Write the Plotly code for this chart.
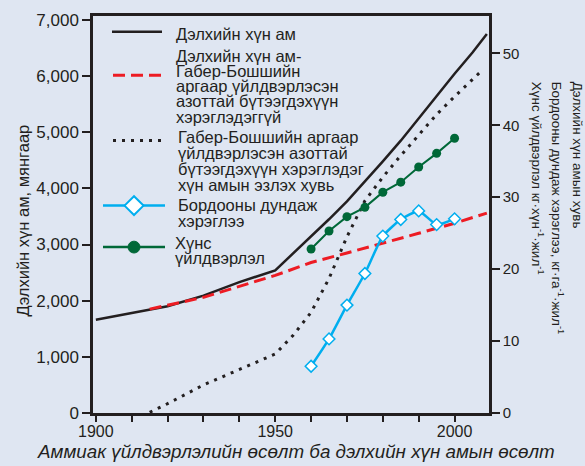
import plotly.graph_objects as go

# ---------------- data ----------------
# World population, millions
years_pop = [1900, 1910, 1920, 1930, 1940, 1950, 1955, 1960, 1965, 1970,
             1975, 1980, 1985, 1990, 1995, 2000, 2005, 2009]
pop_world = [1660, 1780, 1900, 2090, 2330, 2540, 2840, 3150, 3450, 3770,
             4120, 4480, 4850, 5250, 5640, 6040, 6420, 6750]

# World population without Haber-Bosch nitrogen, millions
years_no_hb = [1915, 1930, 1950, 1960, 1970, 1980, 1990, 2000, 2009]
pop_no_hb = [1850, 2060, 2450, 2680, 2850, 3020, 3200, 3380, 3560]

# Share of population fed by Haber-Bosch nitrogen, %
years_share = [1915, 1920, 1930, 1940, 1950, 1955, 1960, 1965, 1970, 1975,
               1980, 1985, 1990, 1995, 2000, 2005, 2008]
share_hb = [0.1, 1.3, 3.9, 6.0, 8.2, 10.8, 14.0, 18.7, 24.5, 29.5,
            32.8, 35.8, 38.7, 41.5, 44.0, 46.4, 47.8]

# Five-year series
years_5 = [1960, 1965, 1970, 1975, 1980, 1985, 1990, 1995, 2000]
fert_use = [6.5, 10.3, 15.0, 19.4, 24.6, 26.9, 28.1, 26.2, 27.0]
food_prod = [22.8, 25.3, 27.3, 28.6, 30.7, 32.1, 34.2, 36.1, 38.2]

x_ticks = [1900, 1950, 2000]
left_ticks = [0, 1000, 2000, 3000, 4000, 5000, 6000, 7000]
right_ticks = [0, 10, 20, 30, 40, 50]

# ---------------- styling ----------------
W, H = 585, 466
ML, MR, MT, MB = 93, 96, 11, 53
BG = "#dfe6f2"
INK = "#231f20"
RED = "#ed1c24"
BLUE = "#00aeef"
GREEN = "#006838"
FONT = "Liberation Sans, Arial, sans-serif"

PW, PH = W - ML - MR, H - MT - MB


def px(x):
    return (x - ML) / PW


def py(y):
    return (H - MB - y) / PH


fig = go.Figure()

fig.add_trace(go.Scatter(x=years_pop, y=pop_world, mode="lines",
                         line=dict(color=INK, width=2.5), showlegend=False))
fig.add_trace(go.Scatter(x=years_no_hb, y=pop_no_hb, mode="lines",
                         line=dict(color=RED, width=3, dash="12px,6px"),
                         showlegend=False))
fig.add_trace(go.Scatter(x=years_share, y=share_hb, mode="lines", yaxis="y2",
                         line=dict(color=INK, width=3, dash="3px,6px"),
                         showlegend=False))
fig.add_trace(go.Scatter(x=years_5, y=fert_use, mode="lines+markers", yaxis="y2",
                         line=dict(color=BLUE, width=2.5, shape="spline", smoothing=0.5),
                         marker=dict(symbol="diamond", size=9, color="white",
                                     line=dict(color=BLUE, width=1.5)),
                         showlegend=False))
fig.add_trace(go.Scatter(x=years_5, y=food_prod, mode="lines+markers", yaxis="y2",
                         line=dict(color=GREEN, width=2),
                         marker=dict(symbol="circle", size=9, color=GREEN),
                         showlegend=False))

# ---------------- legend (drawn by hand for tight line spacing) ----------------
legend_items = [
    dict(kind="solid", y=27, tx=175,
         lines=[("Дэлхийн хүн ам", 29)]),
    dict(kind="dash", y=71, tx=175,
         lines=[("Дэлхийн хүн ам-", 52), ("Габер-Бошшийн", 67),
                ("аргаар үйлдвэрлэсэн", 82), ("азоттай бүтээгдэхүүн", 97.5),
                ("хэрэглэдэггүй", 113)]),
    dict(kind="dot", y=137, tx=177,
         lines=[("Габер-Бошшийн аргаар", 133.5), ("үйлдвэрлэсэн азоттай", 149.5),
                ("бүтээгдэхүүн хэрэглэдэг", 166), ("хүн амын эзлэх хувь", 182)]),
    dict(kind="diamond", y=203, tx=177,
         lines=[("Бордооны дундаж", 202.5), ("хэрэглээ", 219)]),
    dict(kind="circle", y=245, tx=174,
         lines=[("Хүнс", 240.5), ("үйлдвэрлэл", 256.5)]),
]

shapes = []
annotations = []
for item in legend_items:
    yy = item["y"]
    k = item["kind"]
    if k == "solid":
        shapes.append(dict(type="line", xref="paper", yref="paper",
                           x0=px(112), x1=px(162), y0=py(yy), y1=py(yy),
                           line=dict(color=INK, width=2.5)))
    elif k == "dash":
        shapes.append(dict(type="line", xref="paper", yref="paper",
                           x0=px(113), x1=px(161), y0=py(yy), y1=py(yy),
                           line=dict(color=RED, width=3, dash="12px,6px")))
    elif k == "dot":
        shapes.append(dict(type="line", xref="paper", yref="paper",
                           x0=px(113), x1=px(162), y0=py(yy), y1=py(yy),
                           line=dict(color=INK, width=3, dash="3px,6px")))
    elif k == "diamond":
        shapes.append(dict(type="line", xref="paper", yref="paper",
                           x0=px(103), x1=px(165), y0=py(yy), y1=py(yy),
                           line=dict(color=BLUE, width=2.5)))
        cx, r = 134, 9.5
        path = "M {},{} L {},{} L {},{} L {},{} Z".format(
            px(cx - r), py(yy), px(cx), py(yy - r), px(cx + r), py(yy), px(cx), py(yy + r))
        shapes.append(dict(type="path", xref="paper", yref="paper", path=path,
                           fillcolor="white", line=dict(color=BLUE, width=2)))
    elif k == "circle":
        shapes.append(dict(type="line", xref="paper", yref="paper",
                           x0=px(103), x1=px(165), y0=py(yy), y1=py(yy),
                           line=dict(color=GREEN, width=2.5)))
        cx, r = 134, 6
        shapes.append(dict(type="circle", xref="paper", yref="paper",
                           x0=px(cx - r), x1=px(cx + r), y0=py(yy - r), y1=py(yy + r),
                           fillcolor=GREEN, line=dict(color=GREEN, width=1)))
    for text, ty in item["lines"]:
        annotations.append(dict(text=text, xref="paper", yref="paper",
                                x=px(item["tx"]), y=py(ty), xanchor="left", yanchor="middle",
                                showarrow=False, borderpad=0,
                                font=dict(family=FONT, size=16.5, color=INK)))

# ---------------- axis titles ----------------
annotations.append(dict(text="Дэлхийн хүн ам, мянгаар", xref="paper", yref="paper",
                        x=px(23), y=py(218), xanchor="center", yanchor="middle",
                        textangle=-90, showarrow=False,
                        font=dict(family=FONT, size=16.5, color=INK)))

right_titles = [
    ("Дэлхийн хүн амын хувь", 577),
    ("Бордооны дундаж хэрэглээ, кг·га<sup>-1</sup>·жил<sup>-1</sup>", 558),
    ("Хүнс үйлдвэрлэл кг·хүн<sup>-1</sup>·жил<sup>-1</sup>", 538),
]
for text, xx in right_titles:
    annotations.append(dict(text=text, xref="paper", yref="paper",
                            x=px(xx), y=py(76), xanchor="center", yanchor="top",
                            textangle=90, showarrow=False, borderpad=0,
                            font=dict(family=FONT, size=13.5, color=INK)))

annotations.append(dict(text="<i>Аммиак үйлдвэрлэлийн өсөлт ба дэлхийн хүн амын өсөлт</i>",
                        xref="paper", yref="paper", x=px(296), y=py(452),
                        xanchor="center", yanchor="middle", showarrow=False,
                        font=dict(family=FONT, size=18.8, color=INK)))

fig.update_layout(
    width=W, height=H,
    margin=dict(l=ML, r=MR, t=MT, b=MB, pad=0),
    paper_bgcolor=BG, plot_bgcolor=BG,
    showlegend=False,
    shapes=shapes,
    annotations=annotations,
    xaxis=dict(range=[1899.2, 2009.6], tickvals=x_ticks, ticktext=[str(v) for v in x_ticks],
               ticks="outside", ticklen=6, tickwidth=2, tickcolor=INK,
               ticklabelstandoff=-4,
               minor=dict(dtick=10, tick0=1900, ticks="outside", ticklen=6,
                          tickwidth=2, tickcolor=INK, showgrid=False),
               showline=True, linecolor=INK, linewidth=2.5, mirror=True,
               showgrid=False, zeroline=False,
               tickfont=dict(family=FONT, size=16, color=INK)),
    yaxis=dict(range=[0, 7070], tickvals=left_ticks, tickformat=",d",
               ticks="outside", ticklen=8, tickwidth=2, tickcolor=INK,
               showline=True, linecolor=INK, linewidth=2.5, mirror=True,
               showgrid=False, zeroline=False,
               tickfont=dict(family=FONT, size=17, color=INK)),
    yaxis2=dict(range=[0, 55.2], tickvals=right_ticks, overlaying="y", side="right",
                ticks="outside", ticklen=8, tickwidth=2, tickcolor=INK,
                showline=True, linecolor=INK, linewidth=2.5,
                showgrid=False, zeroline=False,
                tickfont=dict(family=FONT, size=15, color=INK)),
)

fig.write_html("out.html")
